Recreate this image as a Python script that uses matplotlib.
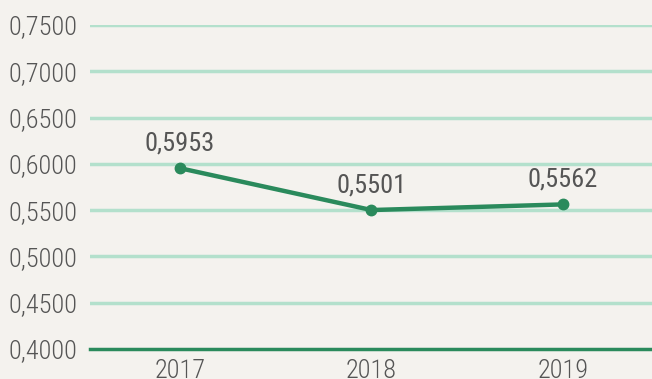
import matplotlib
matplotlib.use("Agg")
import matplotlib.pyplot as plt
from matplotlib import font_manager

years = ["2017", "2018", "2019"]
values = [0.5953, 0.5501, 0.5562]
yticks = [0.40, 0.45, 0.50, 0.55, 0.60, 0.65, 0.70, 0.75]

names = {f.name for f in font_manager.fontManager.ttflist}
cond = "Roboto Condensed" if "Roboto Condensed" in names else "Roboto"

bg = "#f4f2ee"
grid_c = "#b3e0cc"
line_c = "#2a8a5c"
text_c = "#555555"

fig = plt.figure(figsize=(6.52, 3.79), dpi=100, facecolor=bg)
ax = fig.add_axes([90 / 652, 30 / 379, 562 / 652, 324 / 379])
ax.set_facecolor(bg)

x = list(range(len(years)))
ax.plot(x, values, color=line_c, lw=3.2, marker="o", ms=7.5, zorder=3)
for xi, v in zip(x, values):
    ax.annotate(f"{v:.4f}".replace(".", ","), (xi, v), xytext=(0, 9),
                textcoords="offset points", ha="center", va="bottom",
                fontsize=19, color=text_c, family=cond)

ax.set_xlim(-0.47, 2.465)
ax.set_ylim(0.40, 0.75)
ax.set_yticks(yticks)
ax.set_yticklabels([f"{t:.4f}".replace(".", ",") for t in yticks])
ax.set_xticks(x)
ax.set_xticklabels(years)
for lab in ax.get_xticklabels() + ax.get_yticklabels():
    lab.set_family(cond)
    lab.set_fontweight("light")
    lab.set_fontsize(19)
    lab.set_color(text_c)

for t in yticks[1:]:
    ax.axhline(t, color=grid_c, lw=2.5, zorder=1)
ax.axhline(0.40, color=line_c, lw=2.5, zorder=2, clip_on=False)

for s in ax.spines.values():
    s.set_visible(False)
ax.tick_params(axis="y", length=0, pad=9)
ax.tick_params(axis="x", length=0, pad=7)

fig.savefig("out.png", dpi=100, facecolor=bg)
